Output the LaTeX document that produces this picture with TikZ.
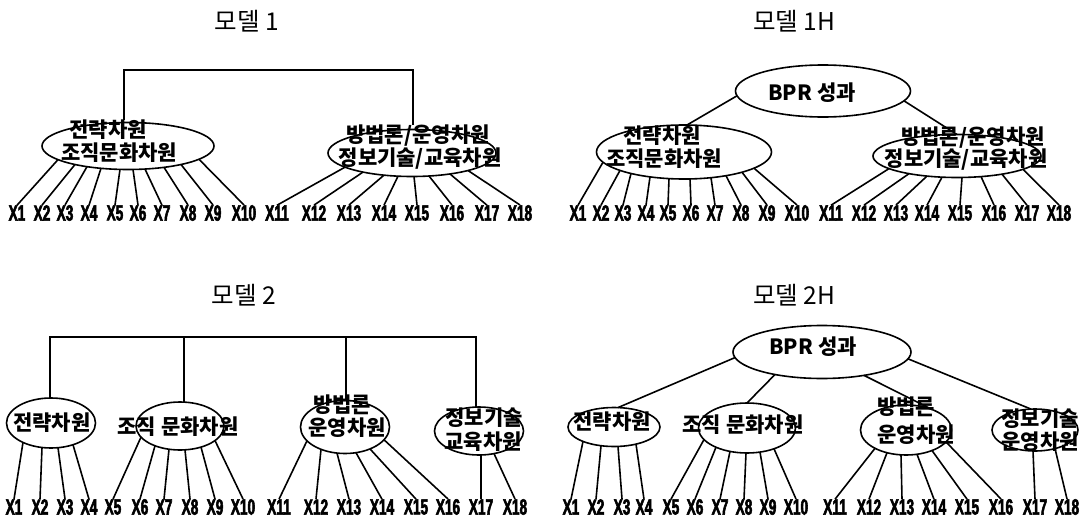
\documentclass[tikz,border=0pt]{standalone}
\usepackage{fontspec}
\newfontfamily\krf{Noto Sans CJK KR}
\newfontfamily\xlf[FakeStretch=0.62,FakeBold=2.5]{Liberation Sans Bold}
\usetikzlibrary{calc,shapes.geometric}
% line from label top to a point on the lower half of an ellipse (dx from centre)
\newcommand\lk[5]{\draw[ln] (#1.north) -- ($(#2.center)+({-acos((#5)/(#3))}:#3pt and #4pt)$);}
% line from lower half of ellipse #1 to upper half of ellipse #5
\newcommand\ee[8]{\draw[ln] ($(#1.center)+({-acos((#4)/(#2))}:#2pt and #3pt)$) -- ($(#5.center)+({acos((#8)/(#6))}:#6pt and #7pt)$);}
\begin{document}
\begin{tikzpicture}[x=1pt,y=-1pt,
  ln/.style={line width=1.6pt},
  el/.style 2 args={draw,ellipse,line width=1.6pt,inner sep=0pt,outer sep=0pt,minimum width=#1pt,minimum height=#2pt},
  kt/.style={font=\krf\bfseries\fontsize{21}{22}\selectfont,inner sep=0pt},
  tt/.style={font=\krf\fontsize{24.5}{26}\selectfont,inner sep=0pt},
  xl/.style={font=\xlf\fontsize{22}{22}\selectfont,inner sep=0pt}]
\useasboundingbox (0,0) rectangle (1087,522);

% ---------- titles
\node[tt] (h1) at (247,21) {모델 1};
\node[tt] (h2) at (794,21) {모델 1H};
\node[tt] (h3) at (244,295) {모델 2};
\node[tt] (h4) at (794,295) {모델 2H};

% ================= Model 1 =================
\node[el={172}{47}] (A) at (128,146) {};
\node[el={168}{47}] (B) at (412,153) {};
\node[kt] (ta1) at (108,130) {전략차원};
\node[kt] (ta2) at (119,153) {조직문화차원};
\node[kt] (tb1) at (418,136) {방법론/운영차원};
\node[kt] (tb2) at (420,159) {정보기술/교육차원};
\coordinate (cL) at (124,70);
\coordinate (cR) at (413,70);
\draw[ln] (cL |- ta1.north) -- (cL) -- (cR) -- (cR |- tb1.north);
\foreach \n/\x in {1/17,2/42,3/65,4/89,5/115,6/138,7/162,8/188,9/213,10/244,11/277,12/314,13/349,14/384,15/417,16/452,17/487,18/520}
  {\node[xl] (a\n) at (\x,213) {X\n};}
\foreach \n/\d in {1/-70,2/-53,3/-41,4/-27,5/-8,6/5,7/17,8/36,9/53,10/71}
  {\lk{a\n}{A}{86}{23.5}{\d}}
\foreach \n/\d in {11/-67,12/-49,13/-28,14/-14,15/2,16/17,17/38,18/56}
  {\lk{a\n}{B}{84}{23.5}{\d}}

% ================= Model 1H =================
\node[el={175}{52}] (P1) at (823,91) {};
\node[kt] (tp1) at (812,93) {BPR 성과};
\node[el={175}{54}] (C) at (684,152) {};
\node[el={168}{43}] (D) at (957,156) {};
\node[kt] (tc1) at (662,136) {전략차원};
\node[kt] (tc2) at (664,159) {조직문화차원};
\node[kt] (td1) at (973,138) {방법론/운영차원};
\node[kt] (td2) at (966,160) {정보기술/교육차원};
\ee{P1}{87.5}{26}{-86}{C}{87.5}{27}{3}
\ee{P1}{87.5}{26}{81}{D}{84}{21.5}{0}
\foreach \n/\x in {1/578,2/601,3/623,4/646,5/668,6/691,7/715,8/741,9/767,10/797,11/831,12/864,13/896,14/927,15/960,16/994,17/1027,18/1059}
  {\node[xl] (b\n) at (\x,213) {X\n};}
\foreach \n/\d in {1/-81,2/-64,3/-53,4/-34,5/-15,6/6,7/27,8/42,9/58,10/70}
  {\lk{b\n}{C}{87.5}{27}{\d}}
\foreach \n/\d in {11/-68,12/-48,13/-30,14/-15,15/5,16/24,17/45,18/66}
  {\lk{b\n}{D}{84}{21.5}{\d}}

% ================= Model 2 =================
\node[el={89}{50}] (E1) at (51,423) {};
\node[el={88}{48}] (E2) at (180,426) {};
\node[el={89}{53}] (E3) at (345,427) {};
\node[el={89}{48}] (E4) at (479,431) {};
\node[kt] (te1) at (52,423) {전략차원};
\node[kt] (te2) at (178,427) {조직 문화차원};
\node[kt] (te3a) at (342,405) {방법론};
\node[kt] (te3b) at (347,428) {운영차원};
\node[kt] (te4a) at (484,418) {정보기술};
\node[kt] (te4b) at (483,442) {교육차원};
\coordinate (bb1) at (50,337);
\coordinate (bb2) at (184,337);
\coordinate (bb3) at (346,337);
\coordinate (bb4) at (476,337);
\draw[ln] (bb1 |- E1.north) -- (bb1) -- (bb4) -- (bb4 |- E4.north);
\draw[ln] (bb2) -- (bb2 |- E2.north);
\draw[ln] (bb3) -- (bb3 |- E3.north);
\foreach \n/\x in {1/14,2/40,3/65,4/89,5/113,6/140,7/164,8/190,9/215,10/243,11/279,12/316,13/349,14/382,15/416,16/448,17/481,18/515}
  {\node[xl] (c\n) at (\x,507) {X\n};}
\foreach \n/\d in {1/-28,2/-9,3/7,4/22}
  {\lk{c\n}{E1}{44.5}{25}{\d}}
\foreach \n/\d in {5/-39,6/-25,7/-11,8/5,9/21,10/35}
  {\lk{c\n}{E2}{44}{24}{\d}}
\foreach \n/\d in {11/-38,12/-24,13/-8,14/11,15/25,16/39}
  {\lk{c\n}{E3}{44.5}{26.5}{\d}}
\foreach \n/\d in {17/2,18/15}
  {\lk{c\n}{E4}{44.5}{24}{\d}}

% ================= Model 2H =================
\node[el={178}{53}] (P2) at (822,352) {};
\node[kt] (tp2) at (813,347) {BPR 성과};
\node[el={92}{39}] (F1) at (614,427) {};
\node[el={97}{50}] (F2) at (747,428) {};
\node[el={91}{50}] (F3) at (906,430) {};
\node[el={86}{42}] (F4) at (1035,430) {};
\node[kt] (tf1) at (612,422) {전략차원};
\node[kt] (tf2) at (743,425) {조직 문화차원};
\node[kt] (tf3a) at (906,407) {방법론};
\node[kt] (tf3b) at (916,435) {운영차원};
\node[kt] (tf4a) at (1040,419) {정보기술};
\node[kt] (tf4b) at (1040,442) {운영차원};
\ee{P2}{89}{26.5}{-87}{F1}{46}{19.5}{4}
\ee{P2}{89}{26.5}{-47}{F2}{48.5}{25}{0}
\ee{P2}{89}{26.5}{42}{F3}{45.5}{25}{26}
\ee{P2}{89}{26.5}{86}{F4}{43}{21}{-4}
\foreach \n/\x in {1/571,2/596,3/622,4/644,5/671,6/695,7/720,8/744,9/768,10/796,11/835,12/869,13/902,14/934,15/967,16/1001,17/1035,18/1067}
  {\node[xl] (d\n) at (\x,507) {X\n};}
\foreach \n/\d in {1/-31,2/-13,3/4,4/22}
  {\lk{d\n}{F1}{46}{19.5}{\d}}
\foreach \n/\d in {5/-43,6/-31,7/-17,8/-1,9/13,10/27}
  {\lk{d\n}{F2}{48.5}{25}{\d}}
\foreach \n/\d in {11/-31,12/-19,13/-5,14/11,15/26,16/40}
  {\lk{d\n}{F3}{45.5}{25}{\d}}
\foreach \n/\d in {17/-2,18/20}
  {\lk{d\n}{F4}{43}{21}{\d}}
\end{tikzpicture}
\end{document}
